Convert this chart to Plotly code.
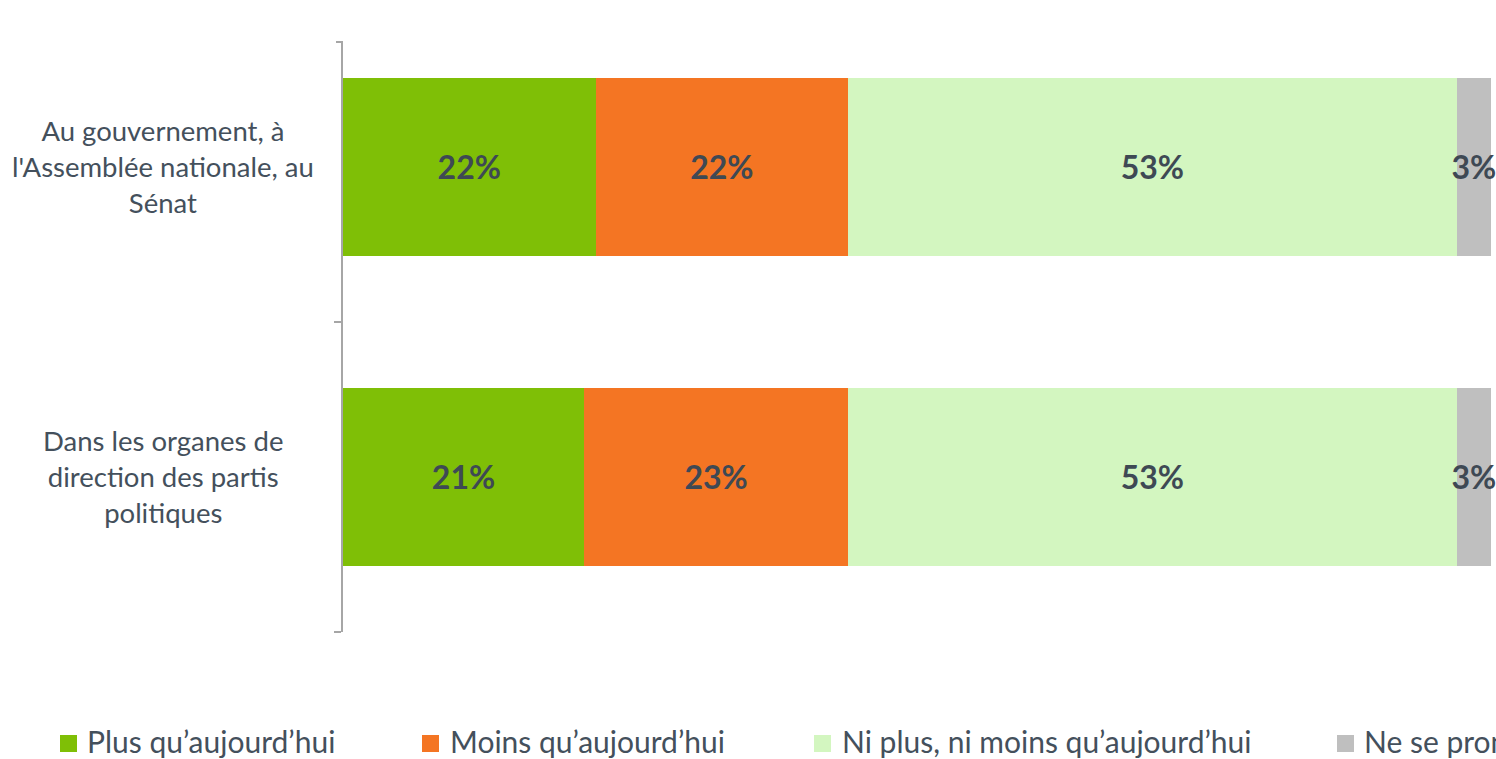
import plotly.graph_objects as go

categories = ["Dans les organes de<br>direction des partis<br>politiques",
              "Au gouvernement, à<br>l'Assemblée nationale, au<br>Sénat"]
series_names = ["Plus qu’aujourd’hui", "Moins qu’aujourd’hui",
                "Ni plus, ni moins qu’aujourd’hui", "Ne se prononce pas"]
legend_labels = ["Plus qu’aujourd’hui", "Moins qu’aujourd’hui",
                 "Ni plus, ni moins qu’aujourd’hui", "Ne se prononce pas"]
values = [
    [21, 22],   # Plus
    [23, 22],   # Moins
    [53, 53],   # Ni plus ni moins
    [3, 3],     # NSP
]
colors = ["#7FBF06", "#F47523", "#D3F6C0", "#BFBFBF"]

W, H = 1496, 759
ML, MR, MT, MB = 343, 5, 42, 127
PW = W - ML - MR
PH = H - MT - MB

def px2paper_x(px):
    return (px - ML) / PW

def py2paper_y(py):
    return (H - MB - py) / PH

LABEL_COLOR = "#44505C"
VALUE_COLOR = "#3E4954"
FONT = "Lato"

fig = go.Figure()
for name, vals, col in zip(series_names, values, colors):
    fig.add_trace(go.Bar(
        y=categories, x=vals, name=name, orientation="h",
        marker=dict(color=col, line=dict(width=0)),
        text=[f"{v}%" for v in vals],
        textposition="inside", insidetextanchor="middle",
        constraintext="none", cliponaxis=False,
        textfont=dict(family=FONT, size=32, color=VALUE_COLOR, weight="bold"),
        textangle=0,
        showlegend=False, hoverinfo="skip",
    ))

annotations = []
# category labels, centered
for c in categories:
    annotations.append(dict(
        x=px2paper_x(163), xref="paper", y=c, yref="y",
        text=c, showarrow=False, xanchor="center", yanchor="middle",
        align="center", font=dict(family=FONT, size=27.5, color=LABEL_COLOR),
    ))

# manual legend (the last entry is clipped by the page edge as in the original)
sq_left = [60, 422, 814, 1337]
txt_left = [85, 448, 840, 1362]
shapes = []
for lab, col, sx, tx in zip(legend_labels, colors, sq_left, txt_left):
    shapes.append(dict(type="rect", xref="paper", yref="paper",
                       x0=px2paper_x(sx), x1=px2paper_x(sx + 17),
                       y0=py2paper_y(752), y1=py2paper_y(735),
                       fillcolor=col, line=dict(width=0), layer="above"))
    annotations.append(dict(
        x=px2paper_x(tx), xref="paper", y=py2paper_y(741), yref="paper",
        text=lab, showarrow=False, xanchor="left", yanchor="middle",
        font=dict(family=FONT, size=30, color=LABEL_COLOR),
    ))

# top tick of the category axis
shapes.append(dict(type="line", xref="paper", yref="paper",
                   x0=px2paper_x(336), x1=px2paper_x(343),
                   y0=1, y1=1, line=dict(color="#A6A6A6", width=2)))

fig.update_layout(
    width=W, height=H, barmode="stack", bargap=0.423,
    margin=dict(l=ML, r=MR, t=MT, b=MB, pad=0),
    plot_bgcolor="white", paper_bgcolor="white",
    xaxis=dict(range=[0, 100], visible=False, fixedrange=True),
    yaxis=dict(range=[-0.5, 1.403], showticklabels=False,
               showline=True, linecolor="#A6A6A6", linewidth=2,
               ticks="outside", tickson="boundaries", ticklen=7,
               tickcolor="#A6A6A6", tickwidth=2, showgrid=False,
               zeroline=False, fixedrange=True),
    annotations=annotations, shapes=shapes,
    font=dict(family=FONT),
)

fig.write_html(
    "out.html",
    config={"displayModeBar": False},
    post_script="document.body.style.margin='0';document.body.style.overflow='hidden';",
)
